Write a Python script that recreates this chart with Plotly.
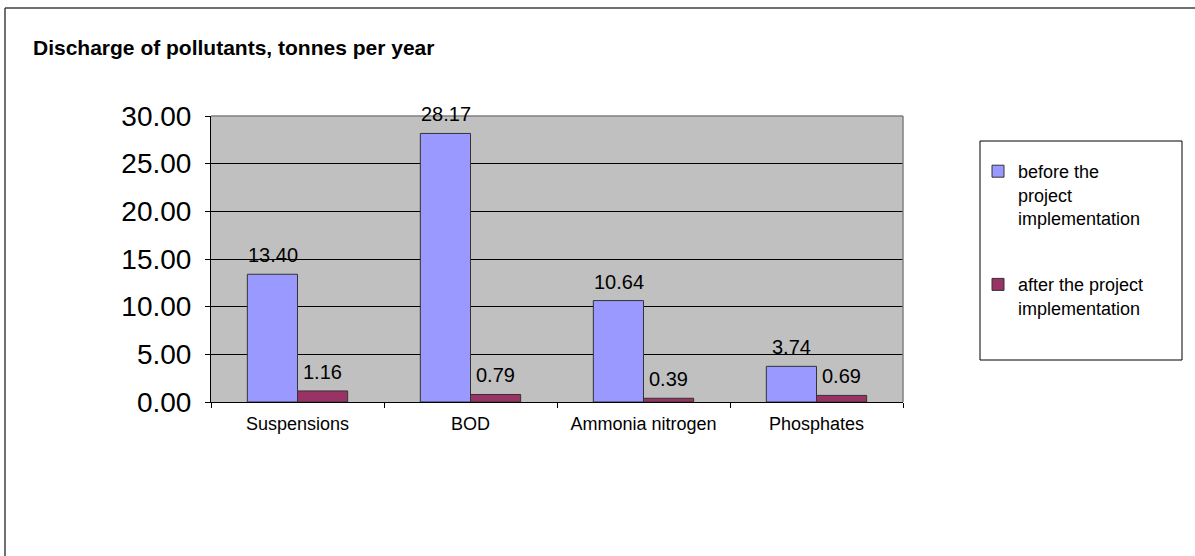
import plotly.graph_objects as go

categories = ["Suspensions", "BOD", "Ammonia nitrogen", "Phosphates"]
before_vals = [13.40, 28.17, 10.64, 3.74]
after_vals = [1.16, 0.79, 0.39, 0.69]
series_names = ["before the<br>project<br>implementation", "after the project<br>implementation"]
title_text = "Discharge of pollutants, tonnes per year"

W, H = 1195, 556
L, R, T, B = 211, 903, 116, 402
FONT = "Liberation Sans, Arial"

def px(x):
    return (x - L) / (R - L)

def py(y):
    return (B - y) / (B - T)

fig = go.Figure()
fig.add_trace(go.Bar(
    x=categories, y=before_vals, name=series_names[0], legendgroup="a",
    marker=dict(color="#9999FF", line=dict(color="#333333", width=1)),
))
fig.add_trace(go.Bar(
    x=categories, y=after_vals, name=series_names[1], legendgroup="b",
    marker=dict(color="#993366", line=dict(color="#333333", width=1)),
))

annotations = []
for vals, shift in ((before_vals, -25), (after_vals, 25)):
    for c, v in zip(categories, vals):
        annotations.append(dict(
            x=c, y=v, xref="x", yref="y", text=f"{v:.2f}", showarrow=False,
            xanchor="center", yanchor="bottom", xshift=shift, yshift=6,
            font=dict(size=20, family=FONT, color="#000000"),
        ))
annotations.append(dict(
    text="<b>" + title_text + "</b>", x=px(31), y=py(47),
    xref="paper", yref="paper", xanchor="left", yanchor="middle",
    showarrow=False, font=dict(size=21, family=FONT, color="#000000"),
))

fig.update_layout(
    width=W, height=H,
    margin=dict(l=L, r=W - R, t=T, b=H - B),
    paper_bgcolor="white",
    plot_bgcolor="#C0C0C0",
    barmode="group",
    bargap=0.42,
    bargroupgap=0,
    font=dict(family=FONT, color="#000000"),
    showlegend=True,
    legend=dict(
        x=px(978), y=py(153), xanchor="left", yanchor="top",
        bgcolor="rgba(0,0,0,0)", borderwidth=0,
        font=dict(size=18, family=FONT),
        tracegroupgap=40, itemwidth=30, valign="top",
        traceorder="grouped",
    ),
    annotations=annotations,
    shapes=[
        dict(type="line", xref="paper", yref="paper", x0=px(5), x1=px(1195), y0=py(8), y1=py(8),
             line=dict(color="#404040", width=1.5)),
        dict(type="line", xref="paper", yref="paper", x0=px(5), x1=px(5), y0=py(8), y1=py(556),
             line=dict(color="#404040", width=1.5)),
        dict(type="rect", xref="paper", yref="paper", x0=px(980), x1=px(1182), y0=py(141), y1=py(360),
             line=dict(color="#000000", width=1), fillcolor="rgba(0,0,0,0)"),
        dict(type="line", xref="paper", yref="paper", x0=0, x1=1, y0=1, y1=1,
             line=dict(color="#808080", width=1.5)),
        dict(type="line", xref="paper", yref="paper", x0=1, x1=1, y0=0, y1=1,
             line=dict(color="#808080", width=1.5)),
    ],
)

fig.update_yaxes(
    range=[0, 30], dtick=5, tickformat=".2f",
    showgrid=True, gridcolor="#000000", gridwidth=1,
    showline=True, linecolor="#000000", linewidth=1,
    ticks="outside", ticklen=5, tickcolor="#000000",
    tickfont=dict(size=28, family=FONT),
    ticklabelstandoff=8,
    zeroline=False,
)
fig.update_xaxes(
    showline=True, linecolor="#000000", linewidth=1,
    ticks="outside", ticklen=5, tickcolor="#000000", tickson="boundaries",
    tickfont=dict(size=18, family=FONT),
    ticklabelstandoff=5,
    showgrid=False,
)

fig.write_html("out.html")
